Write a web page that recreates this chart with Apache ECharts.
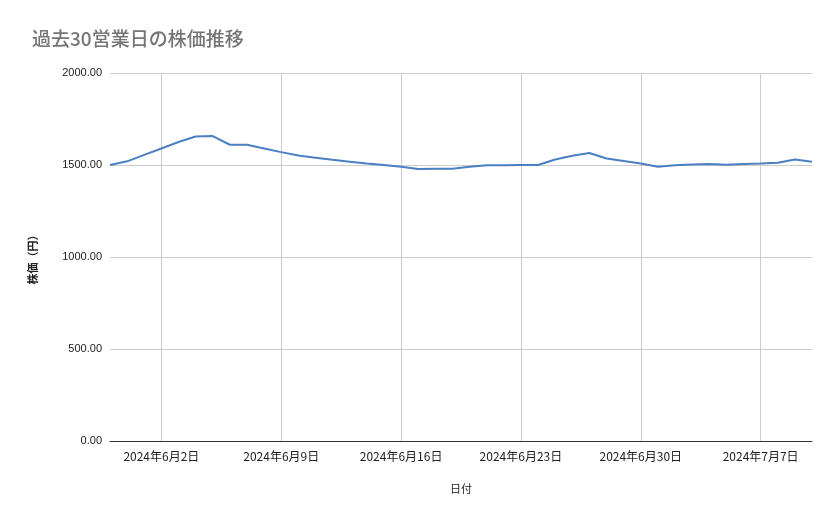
<!DOCTYPE html>
<html><head><meta charset="utf-8">
<script src="https://cdn.jsdelivr.net/npm/echarts@6/dist/echarts.min.js"></script>
<style>body{margin:0}#c{width:839px;height:519px}</style></head>
<body><div id="c"></div>
<script>
// 2024/5/30 から 7/10 までの日次
var dates = [];
var d0 = new Date(2024, 4, 30);
for (var i = 0; i < 42; i++) {
  var d = new Date(d0.getTime() + i * 86400000);
  dates.push(d.getFullYear() + "年" + (d.getMonth() + 1) + "月" + d.getDate() + "日");
}
var prices = [1500,1520,1555,1590,1625,1655,1657,1610,1610,1590,1570,1552,1540,1528,1518,1508,1500,1490,1478,1480,1479,1490,1498,1499,1500,1500,1530,1550,1565,1535,1522,1508,1490,1498,1503,1505,1502,1505,1508,1512,1530,1518];

var showIdx = function (idx) { return (idx - 3) % 7 === 0; };
var chart = echarts.init(document.getElementById("c"));
chart.setOption({
  title: { text: "過去30営業日の株価推移", left: 27, top: 24,
    textStyle: { fontSize: 19, color: "#757575", fontWeight: 500, fontFamily: "Noto Sans CJK JP" } },
  grid: { left: 110, right: 27, top: 73, bottom: 78 },
  xAxis: {
    type: "category", data: dates, boundaryGap: false,
    name: "日付", nameLocation: "middle", nameGap: 42,
    nameTextStyle: { fontSize: 11, color: "#222", fontFamily: "Noto Sans CJK JP" },
    axisLine: { lineStyle: { color: "#333" } }, axisTick: { show: false },
    axisLabel: { interval: showIdx, fontSize: 12, color: "#222", margin: 9, fontFamily: "Noto Sans CJK JP" },
    splitLine: { show: true, interval: showIdx, lineStyle: { color: "#ccc" } }
  },
  yAxis: {
    type: "value", min: 0, max: 2000, interval: 500,
    name: "株価（円）", nameLocation: "middle", nameGap: 72,
    nameTextStyle: { fontSize: 11, color: "#222", fontWeight: "bold", fontFamily: "Noto Sans CJK JP" },
    axisLabel: { formatter: function (v) { return v.toFixed(2); }, fontSize: 11, color: "#222" },
    splitLine: { lineStyle: { color: "#ccc" } }
  },
  series: [{ type: "line", data: prices, showSymbol: false, lineStyle: { color: "#4a7fc1", width: 2 } }]
});
</script></body></html>
